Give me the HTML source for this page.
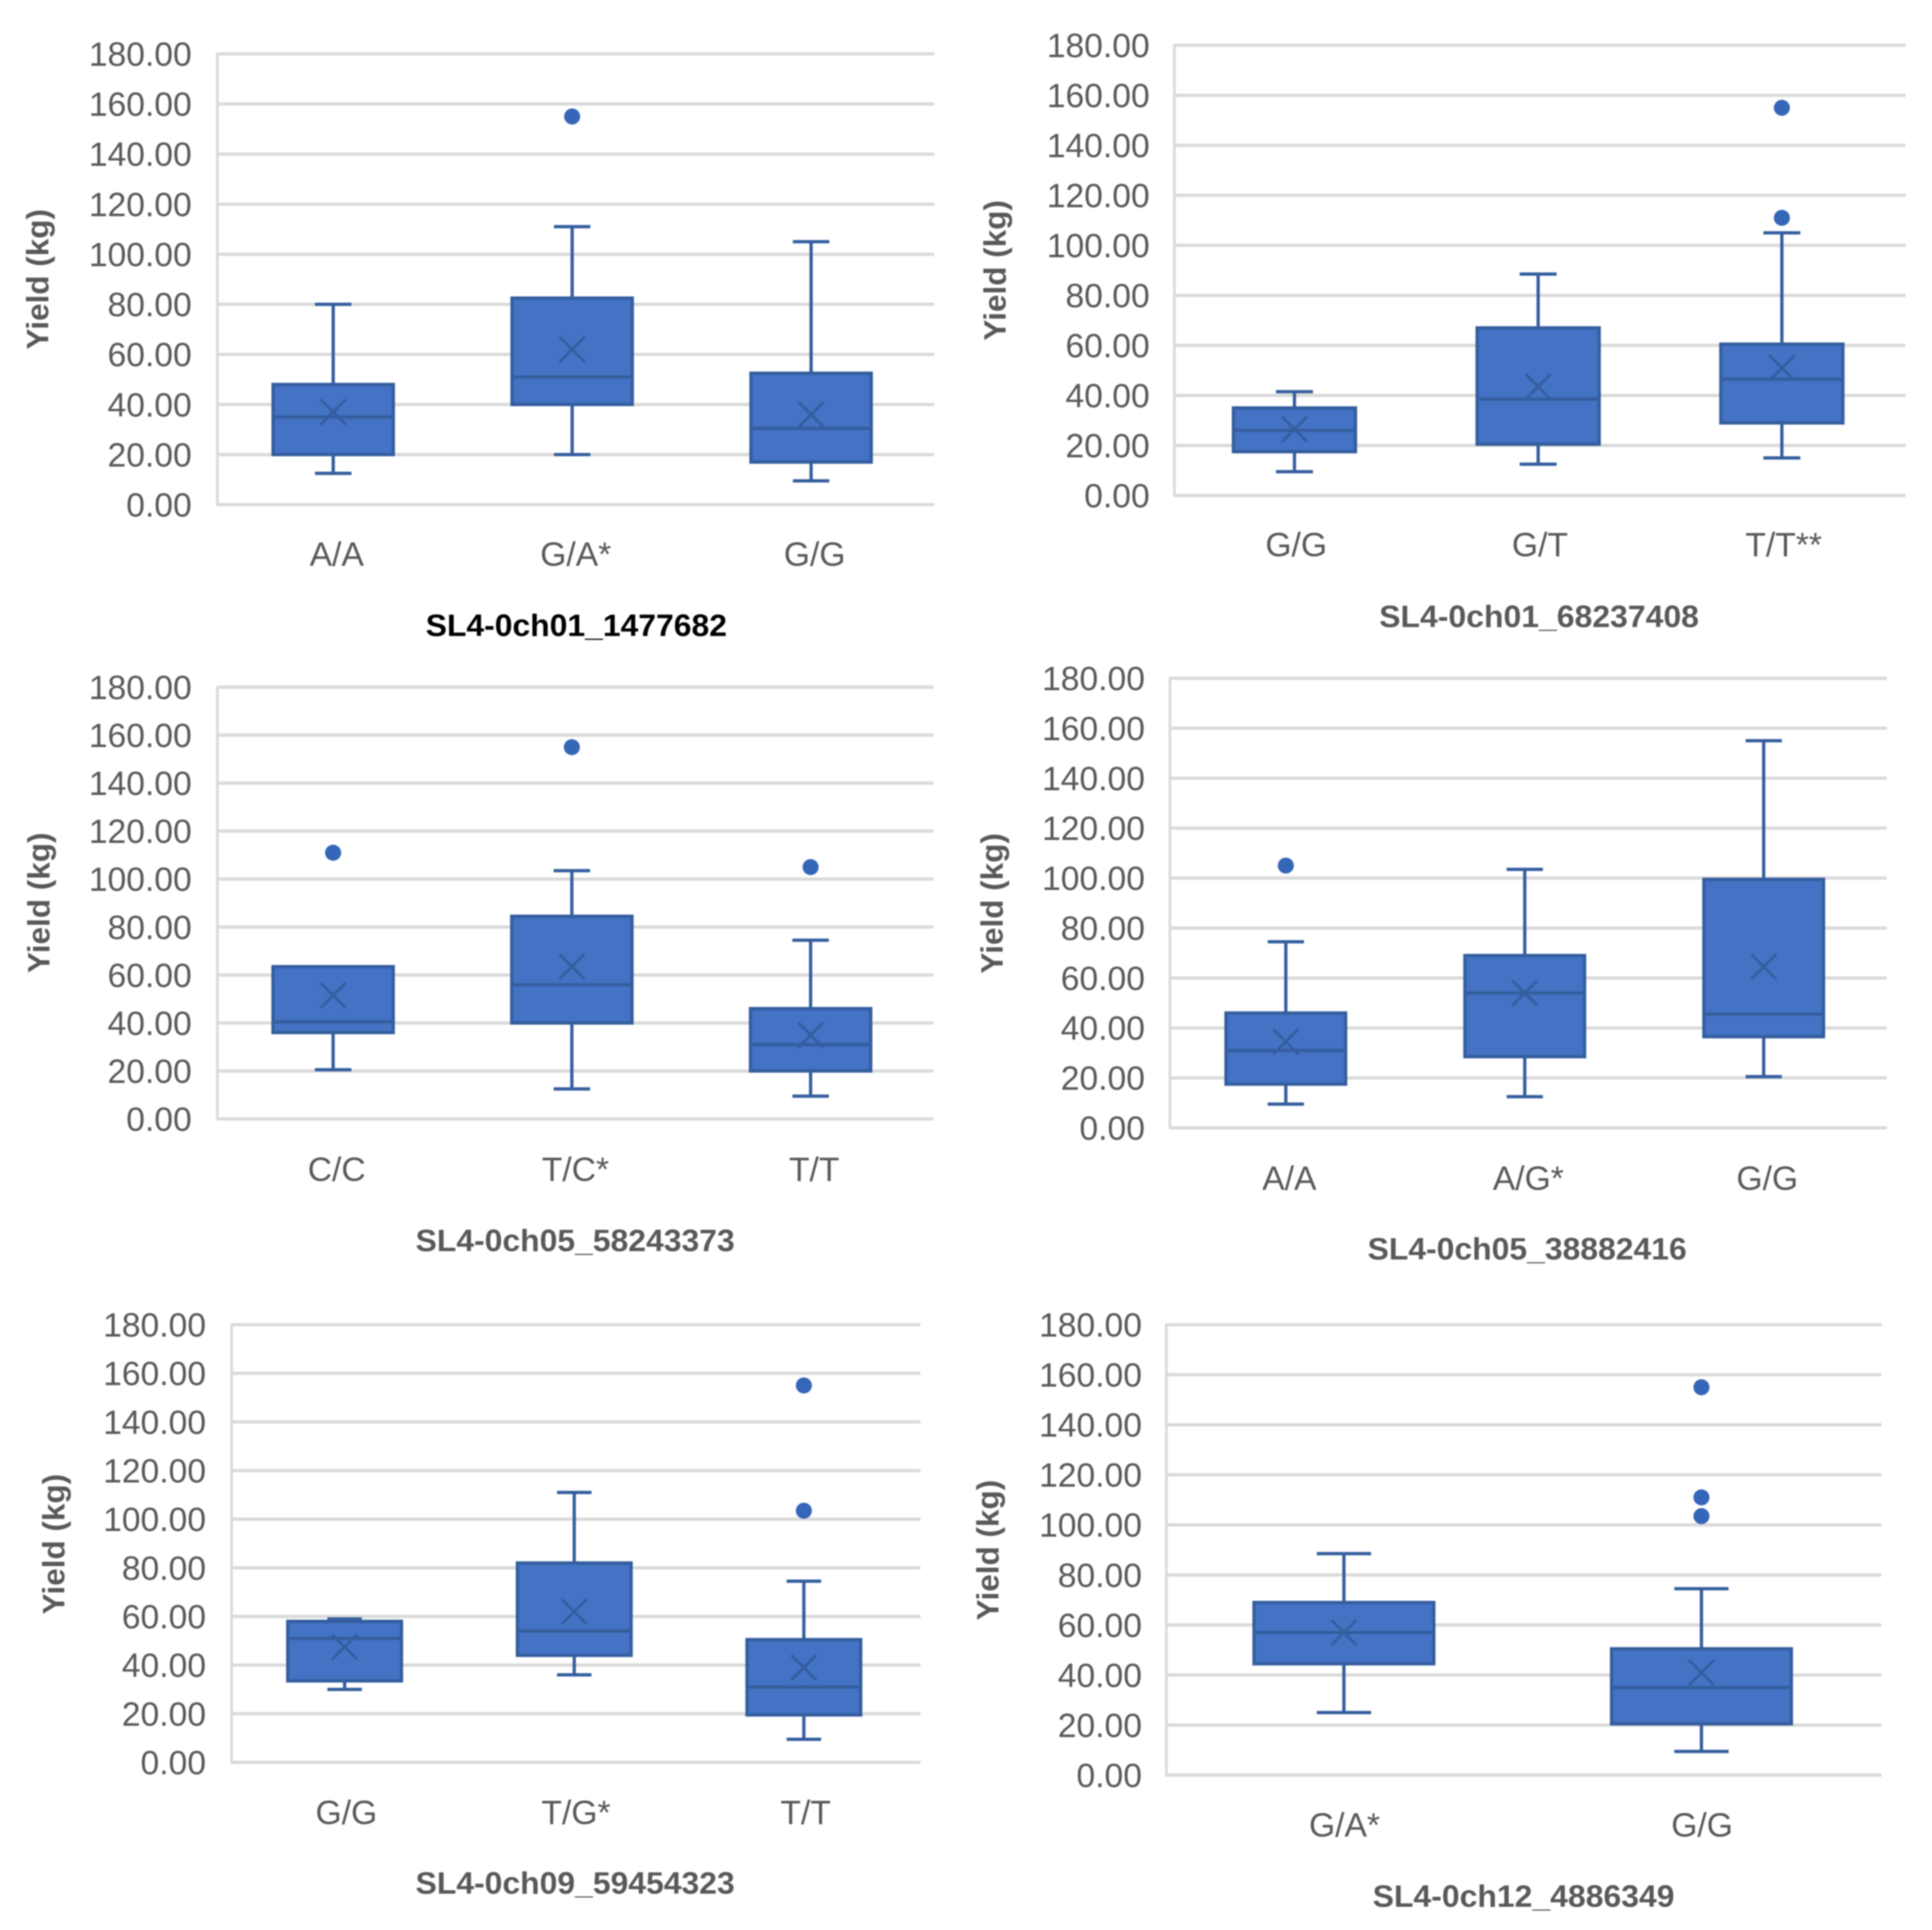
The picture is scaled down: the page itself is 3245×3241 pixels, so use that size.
<!DOCTYPE html>
<html lang="en">
<head>
<meta charset="utf-8">
<title>Yield box plots by SNP genotype</title>
<style>
  html, body { margin: 0; padding: 0; background: #ffffff; }
  #figure { display: block; width: 3245px; height: 3241px; filter: blur(1px); }
  text { font-family: "Liberation Sans", sans-serif; fill: #595959; }
</style>
</head>
<body>
<svg id="figure" xmlns="http://www.w3.org/2000/svg" width="3245" height="3241" viewBox="0 0 3245 3241"></svg>
<script>
// ---- shared axis data ----
const yTicks = [0, 20, 40, 60, 80, 100, 120, 140, 160, 180];
const yMax = 180;
const yAxisTitle = 'Yield (kg)';

// ---- panel 1 ----
const p1Title = 'SL4-0ch01_1477682';
const p1Categories = ['A/A', 'G/A*', 'G/G'];
const p1WhiskerHigh = [80, 111, 105];
const p1Q3 = [48, 82.5, 52.5];
const p1Median = [35, 51, 30.5];
const p1Q1 = [20, 40, 17];
const p1WhiskerLow = [12.5, 20, 9.5];
const p1Mean = [37, 62, 36];
const p1Outliers = [[], [155], []];

// ---- panel 2 ----
const p2Title = 'SL4-0ch01_68237408';
const p2Categories = ['G/G', 'G/T', 'T/T**'];
const p2WhiskerHigh = [41.5, 88.5, 105];
const p2Q3 = [35, 67, 60.5];
const p2Median = [26, 38.5, 46.5];
const p2Q1 = [17.5, 20.5, 29];
const p2WhiskerLow = [9.5, 12.5, 15];
const p2Mean = [26.5, 43.5, 51];
const p2Outliers = [[], [], [155, 111]];

// ---- panel 3 ----
const p3Title = 'SL4-0ch05_58243373';
const p3Categories = ['C/C', 'T/C*', 'T/T'];
const p3WhiskerHigh = [63.5, 103.5, 74.5];
const p3Q3 = [63.5, 84.5, 46];
const p3Median = [40.5, 56, 31];
const p3Q1 = [36, 40, 20];
const p3WhiskerLow = [20.5, 12.5, 9.5];
const p3Mean = [51.5, 63.5, 35];
const p3Outliers = [[111], [155], [105]];

// ---- panel 4 ----
const p4Title = 'SL4-0ch05_38882416';
const p4Categories = ['A/A', 'A/G*', 'G/G'];
const p4WhiskerHigh = [74.5, 103.5, 155];
const p4Q3 = [46, 69, 99.5];
const p4Median = [31, 54, 45.5];
const p4Q1 = [17.5, 28.5, 36.5];
const p4WhiskerLow = [9.5, 12.5, 20.5];
const p4Mean = [34.5, 54, 64.5];
const p4Outliers = [[105], [], []];

// ---- panel 5 ----
const p5Title = 'SL4-0ch09_59454323';
const p5Categories = ['G/G', 'T/G*', 'T/T'];
const p5WhiskerHigh = [59, 111, 74.5];
const p5Q3 = [58, 82, 50.5];
const p5Median = [51, 54, 31];
const p5Q1 = [33.5, 44, 19.5];
const p5WhiskerLow = [30, 36, 9.5];
const p5Mean = [47.5, 62, 39];
const p5Outliers = [[], [], [155, 103.5]];

// ---- panel 6 ----
const p6Title = 'SL4-0ch12_4886349';
const p6Categories = ['G/A*', 'G/G'];
const p6WhiskerHigh = [88.5, 74.5];
const p6Q3 = [69, 50.5];
const p6Median = [57, 35];
const p6Q1 = [44.5, 20.5];
const p6WhiskerLow = [25, 9.5];
const p6Mean = [57, 41];
const p6Outliers = [[], [155, 111, 103.5]];

const svg = document.getElementById('figure');
const NS = 'http://www.w3.org/2000/svg';
const GRID = '#dadada';
const FILL = '#4472c4';
const EDGE = '#345e9e';

function make(tag, parent, attrs, content) {
  const el = document.createElementNS(NS, tag);
  for (const k in attrs) el.setAttribute(k, attrs[k]);
  if (content !== undefined) el.textContent = content;
  parent.appendChild(el);
  return el;
}

function drawPanel(id, layout, d) {
  const yScale = v => layout.bottom - (v / yMax) * (layout.bottom - layout.top);
  const bandW = (layout.right - layout.left) / d.categories.length;
  const xScale = i => layout.left + (i + 0.5) * bandW;

  const panel = make('g', svg, {});
  
  

  // gridlines and tick labels
  yTicks.forEach(t => {
    const y = yScale(t);
    const grid = make('line', panel, { x1: layout.left, x2: layout.right, y1: y, y2: y, stroke: GRID, 'stroke-width': 5.5 });
    
    
    const tick = make('text', panel, { x: layout.tickRight, y: y + 20, 'text-anchor': 'end', 'font-size': 56.5 }, t.toFixed(2));
    
    
  });

  const axis = make('line', panel, { x1: layout.left, x2: layout.left, y1: layout.top - 2, y2: layout.bottom + 2, stroke: GRID, 'stroke-width': 4.5 });
  
  

  // axis title
  const yTitle = make('text', panel, {
    transform: 'translate(' + layout.yTitleX + ',' + layout.yTitleY + ') rotate(-90)',
    'text-anchor': 'middle', 'font-size': 52, 'font-weight': 'bold',
    textLength: 236, lengthAdjust: 'spacingAndGlyphs', y: 17
  }, yAxisTitle);
  
  

  // boxes
  d.categories.forEach((cat, i) => {
    const cx = xScale(i) + layout.boxOffset;
    const half = layout.boxWidth / 2;
    const capHalf = layout.boxWidth * 0.15;

    const group = make('g', panel, {});
    
    

    const whisker = make('line', group, { x1: cx, x2: cx, y1: yScale(d.whiskerHigh[i]), y2: yScale(d.whiskerLow[i]), stroke: EDGE, 'stroke-width': 5.5 });
    
    

    const capHigh = make('line', group, { x1: cx - capHalf, x2: cx + capHalf, y1: yScale(d.whiskerHigh[i]), y2: yScale(d.whiskerHigh[i]), stroke: EDGE, 'stroke-width': 5.5 });
    
    

    const capLow = make('line', group, { x1: cx - capHalf, x2: cx + capHalf, y1: yScale(d.whiskerLow[i]), y2: yScale(d.whiskerLow[i]), stroke: EDGE, 'stroke-width': 5.5 });
    
    

    const rect = make('rect', group, {
      x: cx - half + 1, y: yScale(d.q3[i]), width: layout.boxWidth - 2,
      height: yScale(d.q1[i]) - yScale(d.q3[i]), fill: FILL, stroke: EDGE, 'stroke-width': 5.5
    });
    
    

    const median = make('line', group, { x1: cx - half + 1, x2: cx + half - 1, y1: yScale(d.median[i]), y2: yScale(d.median[i]), stroke: EDGE, 'stroke-width': 5.5 });
    
    

    const my = yScale(d.mean[i]);
    const mean = make('path', group, {
      d: 'M' + (cx - 21) + ' ' + (my - 21) + 'L' + (cx + 21) + ' ' + (my + 21) + 'M' + (cx - 21) + ' ' + (my + 21) + 'L' + (cx + 21) + ' ' + (my - 21),
      fill: 'none', stroke: EDGE, 'stroke-width': 4.5
    });
    
    

    d.outliers[i].forEach(v => {
      const dot = make('circle', group, { cx: cx, cy: yScale(v), r: 13.5, fill: '#3566b8' });
      
      
    });

    const label = make('text', panel, { x: xScale(i) + layout.labelOffset, y: layout.labelY, 'text-anchor': 'middle', 'font-size': 56.5 }, cat);
    
    
  });

  const title = make('text', panel, {
    x: layout.titleX, y: layout.titleY, 'text-anchor': 'middle', 'font-size': 52, 'font-weight': 'bold',
    textLength: layout.titleW, lengthAdjust: 'spacingAndGlyphs'
  }, d.title);
  title.style.fill = layout.titleColor;
  
  
}

drawPanel('chart-sl4-0ch01-1477682',
  { left: 365, right: 1569, top: 90.5, bottom: 847.5, tickRight: 322, boxOffset: -6, boxWidth: 204, labelOffset: 0, labelY: 950, titleX: 968, titleY: 1068, titleW: 506, titleColor: '#000000', yTitleX: 64, yTitleY: 469 },
  { title: p1Title, categories: p1Categories, whiskerHigh: p1WhiskerHigh, q3: p1Q3, median: p1Median, q1: p1Q1, whiskerLow: p1WhiskerLow, mean: p1Mean, outliers: p1Outliers });

drawPanel('chart-sl4-0ch01-68237408',
  { left: 1972.5, right: 3200.5, top: 76, bottom: 832, tickRight: 1931, boxOffset: -3, boxWidth: 207, labelOffset: 0, labelY: 934, titleX: 2585, titleY: 1053, titleW: 537, titleColor: '#595959', yTitleX: 1672, yTitleY: 454 },
  { title: p2Title, categories: p2Categories, whiskerHigh: p2WhiskerHigh, q3: p2Q3, median: p2Median, q1: p2Q1, whiskerLow: p2WhiskerLow, mean: p2Mean, outliers: p2Outliers });

drawPanel('chart-sl4-0ch05-58243373',
  { left: 365, right: 1568, top: 1154, bottom: 1879, tickRight: 322, boxOffset: -6, boxWidth: 204, labelOffset: 0, labelY: 1983, titleX: 966, titleY: 2101, titleW: 536, titleColor: '#595959', yTitleX: 66, yTitleY: 1516 },
  { title: p3Title, categories: p3Categories, whiskerHigh: p3WhiskerHigh, q3: p3Q3, median: p3Median, q1: p3Q1, whiskerLow: p3WhiskerLow, mean: p3Mean, outliers: p3Outliers });

drawPanel('chart-sl4-0ch05-38882416',
  { left: 1965, right: 3169, top: 1139, bottom: 1894, tickRight: 1923, boxOffset: -6, boxWidth: 203, labelOffset: 0, labelY: 1998, titleX: 2565, titleY: 2115, titleW: 536, titleColor: '#595959', yTitleX: 1667, yTitleY: 1517 },
  { title: p4Title, categories: p4Categories, whiskerHigh: p4WhiskerHigh, q3: p4Q3, median: p4Median, q1: p4Q1, whiskerLow: p4WhiskerLow, mean: p4Mean, outliers: p4Outliers });

drawPanel('chart-sl4-0ch09-59454323',
  { left: 389, right: 1546, top: 2224.5, bottom: 2959.5, tickRight: 346, boxOffset: -3, boxWidth: 193, labelOffset: 0, labelY: 3063, titleX: 966, titleY: 3180, titleW: 536, titleColor: '#595959', yTitleX: 91, yTitleY: 2593 },
  { title: p5Title, categories: p5Categories, whiskerHigh: p5WhiskerHigh, q3: p5Q3, median: p5Median, q1: p5Q1, whiskerLow: p5WhiskerLow, mean: p5Mean, outliers: p5Outliers });

drawPanel('chart-sl4-0ch12-4886349',
  { left: 1959, right: 3160, top: 2224.5, bottom: 2981, tickRight: 1918, boxOffset: -2, boxWidth: 304, labelOffset: -1, labelY: 3084, titleX: 2559, titleY: 3202, titleW: 507, titleColor: '#595959', yTitleX: 1660, yTitleY: 2603 },
  { title: p6Title, categories: p6Categories, whiskerHigh: p6WhiskerHigh, q3: p6Q3, median: p6Median, q1: p6Q1, whiskerLow: p6WhiskerLow, mean: p6Mean, outliers: p6Outliers });
</script>
</body>
</html>
